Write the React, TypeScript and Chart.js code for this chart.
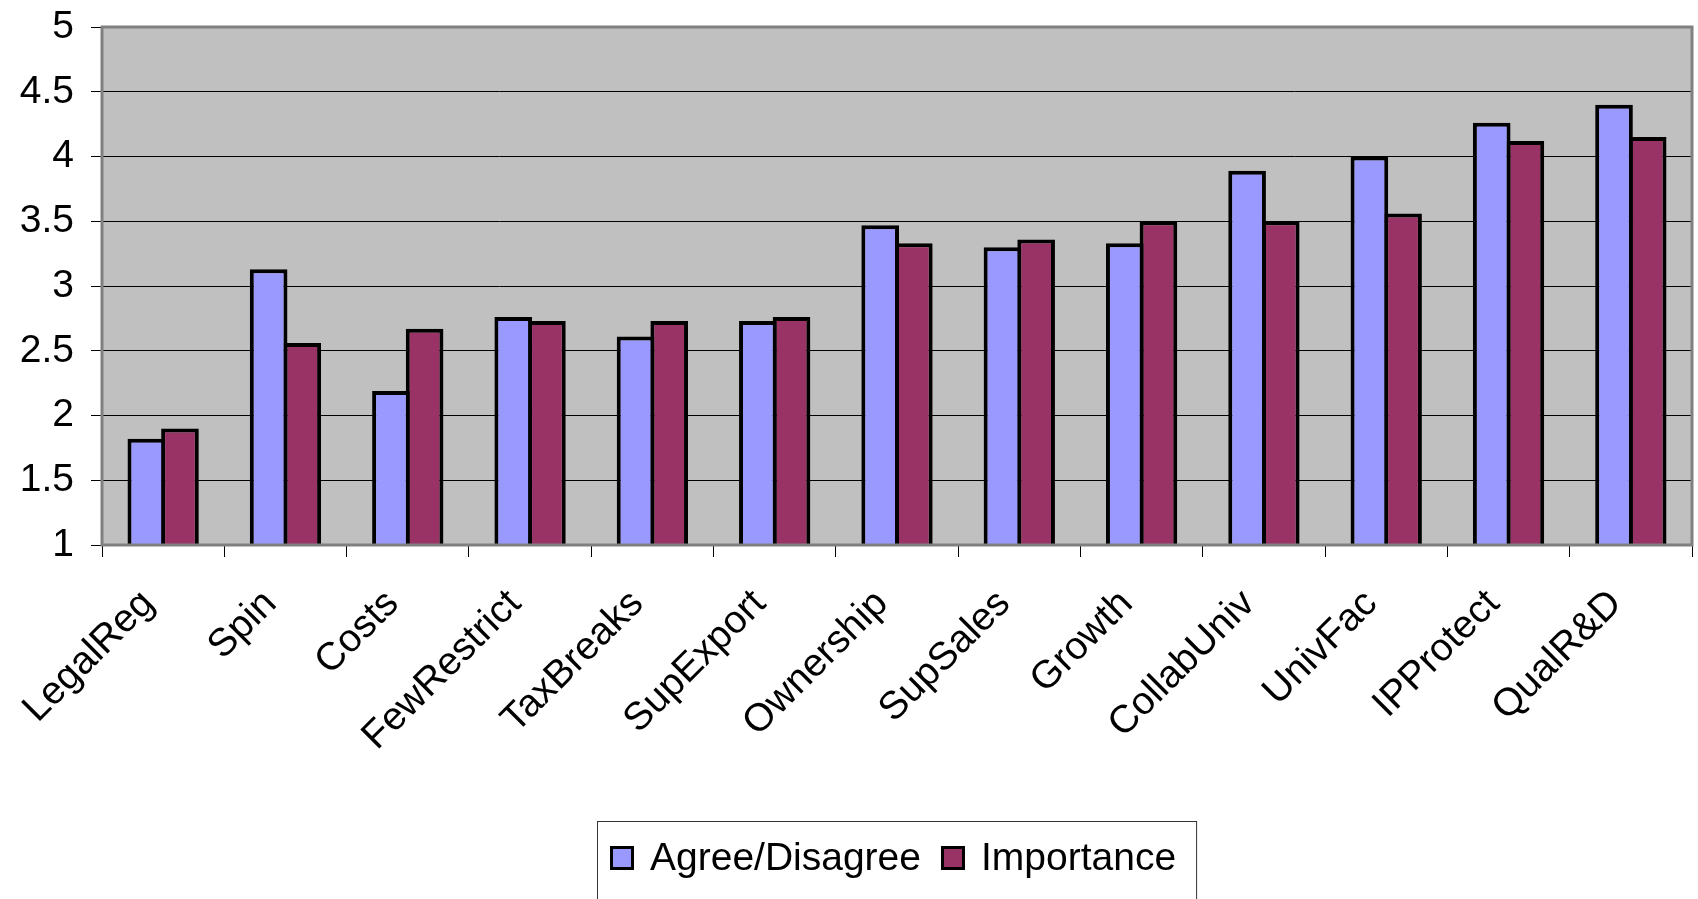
import React, { useEffect, useRef } from "react";
import { Chart, registerables } from "chart.js";

Chart.register(...registerables);

const categories = [
  "LegalReg", "Spin", "Costs", "FewRestrict", "TaxBreaks", "SupExport", "Ownership",
  "SupSales", "Growth", "CollabUniv", "UnivFac", "IPProtect", "QualR&D",
];
const agreeValues = [1.82, 3.13, 2.19, 2.76, 2.61, 2.73, 3.47, 3.3, 3.33, 3.89, 4.0, 4.26, 4.4];
const importanceValues = [1.9, 2.56, 2.67, 2.73, 2.73, 2.76, 3.33, 3.36, 3.5, 3.5, 3.56, 4.12, 4.15];
const seriesNames = ["Agree/Disagree", "Importance"];
const yMin = 1;
const yMax = 5;
const yStep = 0.5;

const FONT = "'Liberation Sans', Arial, sans-serif";

const framePlugin = {
  id: "framePlugin",
  beforeDraw(chart: any) {
    const { ctx, chartArea: a } = chart;
    ctx.save();
    ctx.fillStyle = "#C0C0C0";
    ctx.fillRect(a.left, a.top, a.right - a.left, a.bottom - a.top);
    ctx.restore();
  },
  afterDraw(chart: any) {
    const { ctx, chartArea: a } = chart;
    ctx.save();
    ctx.strokeStyle = "#808080";
    ctx.lineWidth = 3;
    ctx.strokeRect(a.left, a.top, a.right - a.left, a.bottom - a.top);

    // legend
    const ds = chart.data.datasets;
    ctx.font = `39px ${FONT}`;
    const pad = 13, marker = 21, gapM = 16, gapT = 20, padR = 20;
    const widths = ds.map((d: any) => ctx.measureText(d.label).width);
    let total = pad + padR;
    widths.forEach((w: number, i: number) => {
      total += marker + 3 + gapM + w + (i < widths.length - 1 ? gapT : 0);
    });
    const cx = (a.left + a.right) / 2;
    const boxLeft = Math.round(cx - total / 2);
    const boxTop = 821;
    ctx.strokeStyle = "#333";
    ctx.lineWidth = 1;
    ctx.strokeRect(boxLeft + 0.5, boxTop + 0.5, total, 200);
    let x = boxLeft + pad;
    const baseline = 870;
    const my = 858;
    ds.forEach((d: any, i: number) => {
      const mx = x + 1.5;
      ctx.fillStyle = d.backgroundColor;
      ctx.fillRect(mx, my - marker / 2, marker, marker);
      ctx.strokeStyle = "#000";
      ctx.lineWidth = 3;
      ctx.strokeRect(mx, my - marker / 2, marker, marker);
      x += marker + 3 + gapM;
      ctx.fillStyle = "#000";
      ctx.textBaseline = "alphabetic";
      ctx.textAlign = "left";
      ctx.fillText(d.label, x, baseline);
      x += widths[i] + gapT;
    });
    ctx.restore();
  },
};

export default function App() {
  const canvasRef = useRef<HTMLCanvasElement | null>(null);

  useEffect(() => {
    const canvas = canvasRef.current;
    if (!canvas) return;
    const chart = new Chart(canvas, {
      type: "bar",
      data: {
        labels: categories,
        datasets: [
          {
            label: seriesNames[0],
            data: agreeValues,
            backgroundColor: "#9999FF",
            borderColor: "#000000",
            borderWidth: 4,
            borderSkipped: false,
            categoryPercentage: 0.5503,
            barPercentage: 1.119,
          },
          {
            label: seriesNames[1],
            data: importanceValues,
            backgroundColor: "#993366",
            borderColor: "#000000",
            borderWidth: 4,
            borderSkipped: false,
            categoryPercentage: 0.5503,
            barPercentage: 1.119,
          },
        ],
      },
      options: {
        animation: false,
        responsive: false,
        layout: { padding: { left: 0, top: 27, right: 6, bottom: 0 } },
        plugins: {
          legend: { display: false },
          tooltip: { enabled: false },
        },
        scales: {
          x: {
            grid: {
              offset: true,
              drawOnChartArea: false,
              drawTicks: true,
              tickLength: 12,
              color: "#000",
              lineWidth: 1,
            },
            border: { display: false },
            ticks: {
              autoSkip: false,
              maxRotation: 45,
              minRotation: 45,
              padding: 24,
              labelOffset: -15,
              color: "#000",
              font: { family: FONT, size: 39 },
            },
            afterFit(scale: any) {
              scale.height = 899 - 545;
              scale.paddingLeft = 0;
              scale.paddingRight = 0;
            },
          },
          y: {
            min: yMin,
            max: yMax,
            ticks: {
              stepSize: yStep,
              padding: 17,
              color: "#000",
              font: { family: FONT, size: 39 },
              callback: (v: any) => String(v),
            },
            grid: {
              color: (c: any) => (c.tick && (c.tick.value === yMax || c.tick.value === yMin) ? "#808080" : "#000"),
              tickColor: "#000",
              tickLength: 11,
              lineWidth: 1,
            },
            border: { display: false },
            afterFit(scale: any) {
              scale.width = 102;
              scale.paddingTop = 0;
              scale.paddingBottom = 0;
            },
          },
        },
      },
      plugins: [framePlugin],
    });
    return () => chart.destroy();
  }, []);

  return (
    <div style={{ position: "absolute", left: 0, top: 0, width: 1698, height: 899, background: "#fff" }}>
      <canvas ref={canvasRef} width={1698} height={899} style={{ display: "block" }} />
    </div>
  );
}
